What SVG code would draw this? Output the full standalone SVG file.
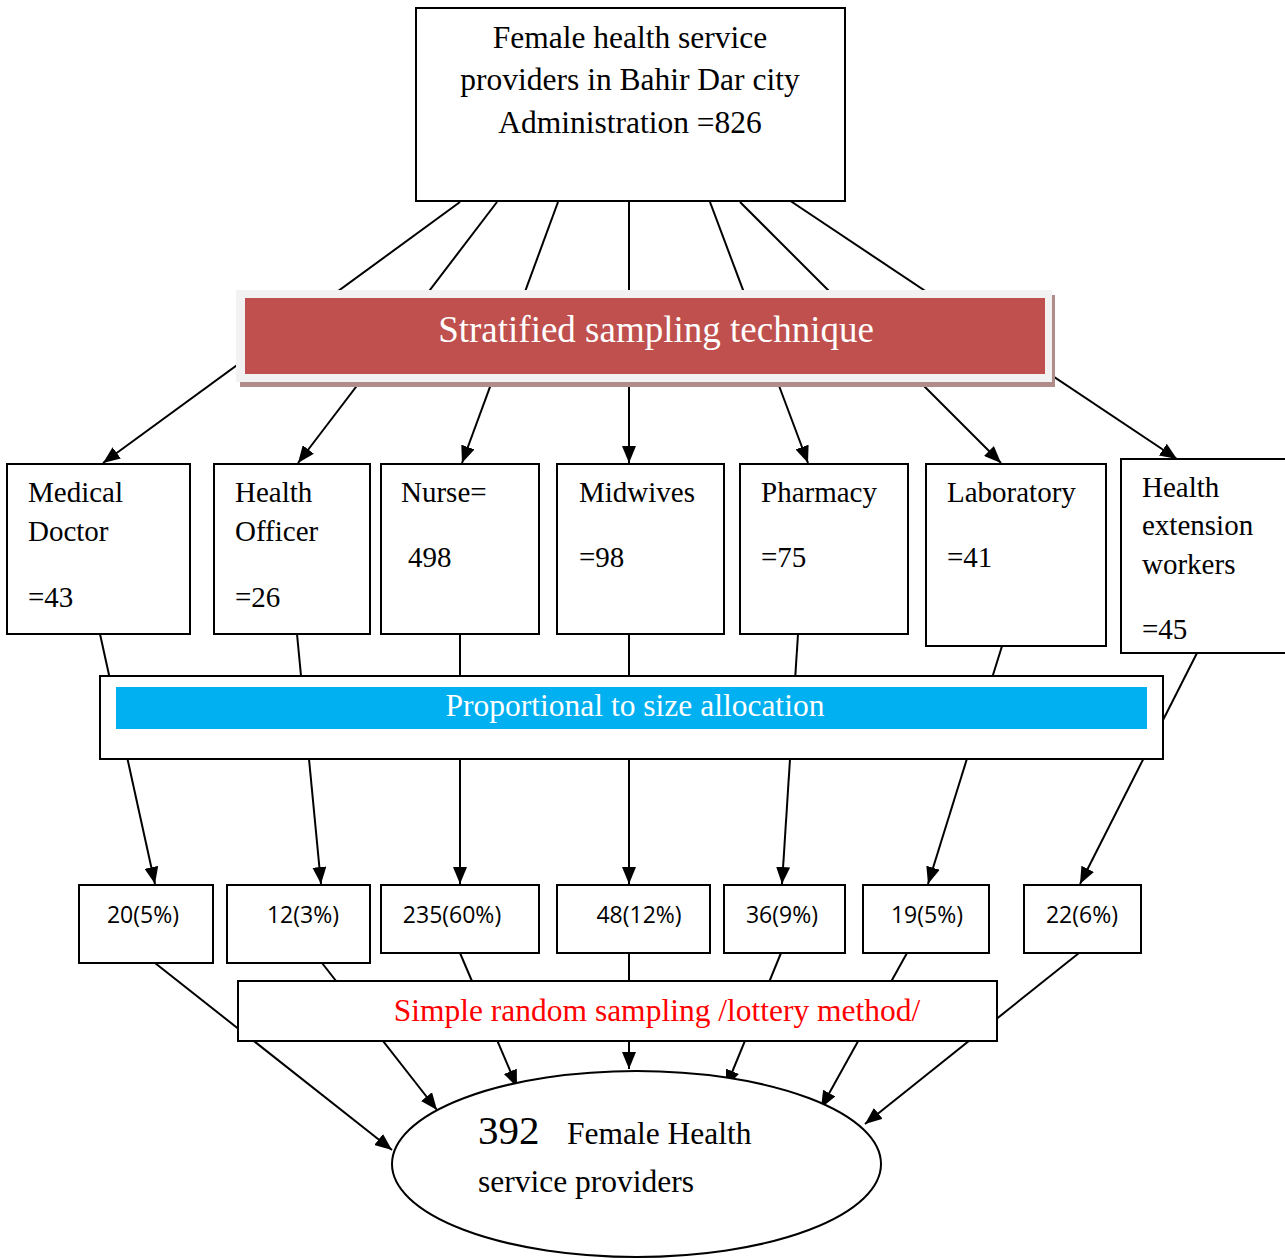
<svg xmlns="http://www.w3.org/2000/svg" width="1285" height="1258" viewBox="0 0 1285 1258">
<defs>
<marker id="arr" markerUnits="userSpaceOnUse" markerWidth="18" markerHeight="14" refX="17" refY="7" orient="auto">
<path d="M0,0 L17,7 L0,14 z" fill="#000"/>
</marker>
<style>
.box{fill:#fff;stroke:#000;stroke-width:2}
.ln{stroke:#000;stroke-width:2;fill:none}
.ar{stroke:#000;stroke-width:2;fill:none;marker-end:url(#arr)}
.serif{font-family:"Liberation Serif","Times New Roman",serif;fill:#000}
.t31{font-size:31.5px}
.t29{font-size:29px}
.sans{font-family:"Open Sans","Liberation Sans",sans-serif;font-size:23px;fill:#000;text-anchor:middle}
</style>
</defs>
<rect width="1285" height="1258" fill="#fff"/>
<g id="connectors">
<line class="ar" x1="460" y1="202" x2="103" y2="463"/>
<line class="ar" x1="497" y1="202" x2="298" y2="463"/>
<line class="ar" x1="558" y1="202" x2="462" y2="463"/>
<line class="ar" x1="629" y1="202" x2="629" y2="463"/>
<line class="ar" x1="710" y1="202" x2="808" y2="463"/>
<line class="ar" x1="740" y1="202" x2="1001" y2="463"/>
<line class="ar" x1="786" y1="198" x2="1177" y2="459"/>
<line class="ar" x1="100" y1="634" x2="155" y2="884"/>
<line class="ar" x1="297" y1="634" x2="321" y2="884"/>
<line class="ar" x1="460" y1="634" x2="460" y2="884"/>
<line class="ar" x1="629" y1="634" x2="629" y2="884"/>
<line class="ar" x1="798" y1="634" x2="782" y2="884"/>
<line class="ar" x1="1002" y1="646" x2="928" y2="884"/>
<line class="ar" x1="1197" y1="653" x2="1080" y2="884"/>
<line class="ar" x1="155" y1="963" x2="392" y2="1150"/>
<line class="ar" x1="322" y1="963" x2="437" y2="1110"/>
<line class="ar" x1="460" y1="953" x2="517" y2="1087"/>
<line class="ar" x1="629" y1="953" x2="629" y2="1069"/>
<line class="ar" x1="781" y1="953" x2="726" y2="1087"/>
<line class="ar" x1="907" y1="953" x2="821" y2="1108"/>
<line class="ar" x1="1079" y1="953" x2="865" y2="1124"/>
</g>
<g id="top">
<rect class="box" x="416" y="8" width="429" height="193"/>
<text class="serif t31" text-anchor="middle" x="630" y="48">Female health service</text>
<text class="serif t31" text-anchor="middle" x="630" y="90">providers in Bahir Dar city</text>
<text class="serif t31" text-anchor="middle" x="630" y="133">Administration =826</text>
</g>
<g id="stratified">
<rect x="240" y="295" width="815" height="92" fill="#b08c8a"/>
<rect x="236" y="290" width="816" height="92" fill="#f2f2f2"/>
<rect x="245" y="298" width="800" height="76" fill="#c0504d"/>
<text class="serif" x="656" y="342" text-anchor="middle" font-size="37" fill="#fff" style="fill:#fff">Stratified sampling technique</text>
</g>
<g id="medical">
<rect class="box" x="7" y="464" width="183" height="170"/>
<text class="serif t29" x="28" y="502">Medical</text>
<text class="serif t29" x="28" y="541">Doctor</text>
<text class="serif t29" x="28" y="607">=43</text>
</g>
<g id="officer">
<rect class="box" x="214" y="464" width="156" height="170"/>
<text class="serif t29" x="235" y="502">Health</text>
<text class="serif t29" x="235" y="541">Officer</text>
<text class="serif t29" x="235" y="607">=26</text>
</g>
<g id="nurse">
<rect class="box" x="381" y="464" width="158" height="170"/>
<text class="serif t29" x="401" y="502">Nurse=</text>
<text class="serif t29" x="408" y="567">498</text>
</g>
<g id="midwives">
<rect class="box" x="557" y="464" width="167" height="170"/>
<text class="serif t29" x="579" y="502">Midwives</text>
<text class="serif t29" x="579" y="567">=98</text>
</g>
<g id="pharmacy">
<rect class="box" x="740" y="464" width="168" height="170"/>
<text class="serif t29" x="761" y="502">Pharmacy</text>
<text class="serif t29" x="761" y="567">=75</text>
</g>
<g id="laboratory">
<rect class="box" x="926" y="464" width="180" height="182"/>
<text class="serif t29" x="947" y="502">Laboratory</text>
<text class="serif t29" x="947" y="567">=41</text>
</g>
<g id="hew">
<rect class="box" x="1121" y="459" width="170" height="194"/>
<text class="serif t29" x="1142" y="497">Health</text>
<text class="serif t29" x="1142" y="535">extension</text>
<text class="serif t29" x="1142" y="574">workers</text>
<text class="serif t29" x="1142" y="639">=45</text>
</g>
<g id="proportional">
<rect class="box" x="100" y="676" width="1063" height="83"/>
<rect x="116" y="687" width="1031" height="42" fill="#00b0f0"/>
<text class="serif t31" x="635" y="716" text-anchor="middle" style="fill:#fff">Proportional to size allocation</text>
</g>
<g id="s1"><rect class="box" x="79" y="885" width="134" height="78"/><text class="sans" x="143" y="923">20(5%)</text></g>
<g id="s2"><rect class="box" x="227" y="885" width="143" height="78"/><text class="sans" x="303" y="923">12(3%)</text></g>
<g id="s3"><rect class="box" x="381" y="885" width="158" height="68"/><text class="sans" x="452" y="923">235(60%)</text></g>
<g id="s4"><rect class="box" x="557" y="885" width="153" height="68"/><text class="sans" x="639" y="923">48(12%)</text></g>
<g id="s5"><rect class="box" x="724" y="885" width="121" height="68"/><text class="sans" x="782" y="923">36(9%)</text></g>
<g id="s6"><rect class="box" x="863" y="885" width="126" height="68"/><text class="sans" x="927" y="923">19(5%)</text></g>
<g id="s7"><rect class="box" x="1024" y="885" width="117" height="68"/><text class="sans" x="1082" y="923">22(6%)</text></g>
<g id="simple">
<rect class="box" x="238" y="981" width="759" height="60"/>
<text class="serif t31" x="657" y="1021" text-anchor="middle" style="fill:#ff0000">Simple random sampling /lottery method/</text>
</g>
<g id="result">
<ellipse cx="636.5" cy="1164" rx="244.5" ry="93" fill="#fff" stroke="#000" stroke-width="2"/>
<text class="serif" x="478" y="1144" font-size="41">392</text>
<text class="serif t31" x="567" y="1144">Female Health</text>
<text class="serif t31" x="478" y="1192">service providers</text>
</g>
</svg>
